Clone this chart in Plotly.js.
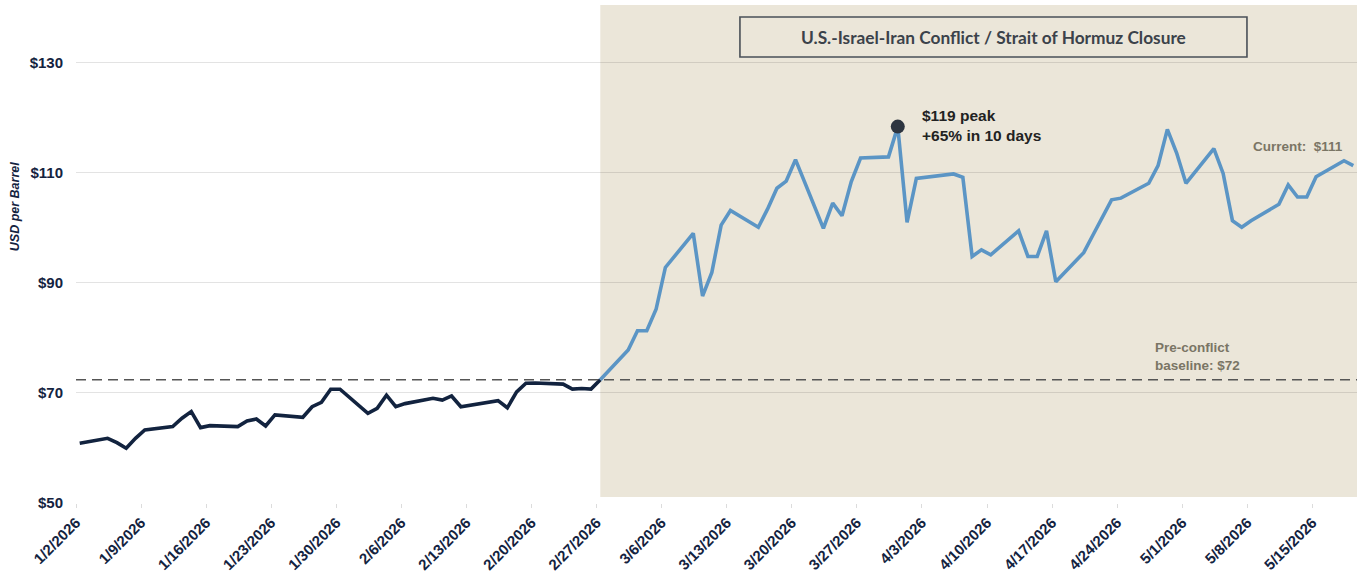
<!DOCTYPE html>
<html>
<head>
<meta charset="utf-8">
<script src="https://cdn.plot.ly/plotly-3.0.1.min.js"></script>
<style>html,body{margin:0;padding:0;background:#fff;}#chart{width:1357px;height:573px;}</style>
</head>
<body>
<div id="chart"></div>
<script>
// ---- data ----
const preDates = ['2026-01-02','2026-01-05','2026-01-06','2026-01-07','2026-01-08','2026-01-09',
  '2026-01-12','2026-01-13','2026-01-14','2026-01-15','2026-01-16',
  '2026-01-19','2026-01-20','2026-01-21','2026-01-22','2026-01-23',
  '2026-01-26','2026-01-27','2026-01-28','2026-01-29','2026-01-30',
  '2026-02-02','2026-02-03','2026-02-04','2026-02-05','2026-02-06',
  '2026-02-09','2026-02-10','2026-02-11','2026-02-12',
  '2026-02-16','2026-02-17','2026-02-18','2026-02-19','2026-02-20',
  '2026-02-23','2026-02-24','2026-02-25','2026-02-26','2026-02-27'];
const preValues = [60.85,61.76,60.97,59.94,61.76,63.27,
  63.88,65.4,66.6,63.7,64.06,
  63.88,64.9,65.27,64.0,66.0,
  65.58,67.5,68.3,70.67,70.67,
  66.3,67.2,69.6,67.5,68.06,
  69.03,68.7,69.45,67.5,
  68.6,67.3,70.2,71.76,71.8,
  71.6,70.7,70.8,70.7,72.4];

const conflictDates = ['2026-02-27','2026-03-02','2026-03-03','2026-03-04','2026-03-05','2026-03-06',
  '2026-03-09','2026-03-10','2026-03-11','2026-03-12','2026-03-13',
  '2026-03-16','2026-03-17','2026-03-18','2026-03-19','2026-03-20',
  '2026-03-23','2026-03-24','2026-03-25','2026-03-26','2026-03-27',
  '2026-03-30','2026-03-31','2026-04-01','2026-04-02',
  '2026-04-06','2026-04-07','2026-04-08','2026-04-09','2026-04-10',
  '2026-04-13','2026-04-14','2026-04-15','2026-04-16','2026-04-17',
  '2026-04-20','2026-04-21','2026-04-22','2026-04-23','2026-04-24',
  '2026-04-27','2026-04-28','2026-04-29','2026-04-30','2026-05-01',
  '2026-05-04','2026-05-05','2026-05-06','2026-05-07','2026-05-08',
  '2026-05-11','2026-05-12','2026-05-13','2026-05-14','2026-05-15',
  '2026-05-18','2026-05-19'];
const conflictValues = [72.4,77.8,81.3,81.3,85.2,92.8,
  99.0,87.6,91.9,100.5,103.15,
  100.1,103.45,107.2,108.5,112.4,
  99.9,104.5,102.2,108.4,112.7,
  112.9,118.4,101.0,109.0,
  109.8,109.2,94.8,96.0,95.1,
  99.45,94.8,94.8,99.45,90.2,
  95.5,98.7,102.05,105.1,105.4,
  108.1,111.3,117.9,113.6,108.1,
  114.4,109.9,101.3,100.1,101.3,
  104.3,107.8,105.6,105.6,109.3,
  112.2,111.3];

const peakDate = '2026-03-31';
const peakValue = 118.4;
const baselineValue = 72.4;
const conflictStart = '2026-02-27';

const tickDates = ['2026-01-02','2026-01-09','2026-01-16','2026-01-23','2026-01-30','2026-02-06',
  '2026-02-13','2026-02-20','2026-02-27','2026-03-06','2026-03-13','2026-03-20','2026-03-27',
  '2026-04-03','2026-04-10','2026-04-17','2026-04-24','2026-05-01','2026-05-08','2026-05-15'];
const tickLabels = ['1/2/2026','1/9/2026','1/16/2026','1/23/2026','1/30/2026','2/6/2026',
  '2/13/2026','2/20/2026','2/27/2026','3/6/2026','3/13/2026','3/20/2026','3/27/2026',
  '4/3/2026','4/10/2026','4/17/2026','4/24/2026','5/1/2026','5/8/2026','5/15/2026'];
const yTickValues = [50,70,90,110,130];
const yTickLabels = ['$50','$70','$90','$110','$130'];

// ---- helpers ----
const DAY = 86400000;
function ms(d){ return Date.parse(d + 'T00:00:00Z'); }
function str(m){ return new Date(m).toISOString().slice(0,19).replace('T',' '); }
const tickShift = 0.4 * DAY;
const xStart = ms(tickDates[0]) - tickShift;
const xEnd = xStart + 137.8 * DAY;

const navy = '#14233f';
const fontFam = 'Liberation Sans, Arial, sans-serif';

const traces = [
  {x: preDates, y: preValues, type:'scatter', mode:'lines',
   line:{color:'#12233f', width:3.6}, hoverinfo:'skip'},
  {x: conflictDates, y: conflictValues, type:'scatter', mode:'lines',
   line:{color:'#5b95c5', width:3.6}, hoverinfo:'skip'},
  {x: [peakDate], y: [peakValue], type:'scatter', mode:'markers',
   marker:{color:'#2d3540', size:14}, hoverinfo:'skip'}
];

const layout = {
  width:1357, height:573,
  margin:{l:76, r:0, t:5, b:70},
  paper_bgcolor:'#ffffff', plot_bgcolor:'#ffffff',
  showlegend:false,
  xaxis:{
    type:'date', range:[str(xStart), str(xEnd)],
    tickmode:'array', tickvals: tickDates.map(d => str(ms(d) - tickShift)), ticktext: tickLabels,
    tickangle:-45, tickfont:{family:fontFam, size:15, color:navy, weight:700},
    ticks:'outside', ticklen:4, tickcolor:'#dcdcdc', tickwidth:1,
    showgrid:false, zeroline:false, showline:false
  },
  yaxis:{
    range:[50,140.5], tickmode:'array', tickvals:yTickValues, ticktext:yTickLabels,
    tickfont:{family:fontFam, size:15, color:navy, weight:700},
    gridcolor:'rgba(0,0,0,0.11)', gridwidth:1, zeroline:false, showline:false,
    ticks:'', ticklabelstandoff:12
  },
  shapes:[
    {type:'rect', layer:'below', xref:'x', yref:'y', x0:conflictStart, x1:str(xEnd), y0:51.1, y1:140.5,
     fillcolor:'#ebe6d9', line:{width:0}},
    {type:'line', xref:'paper', yref:'y', x0:0, x1:1, y0:baselineValue, y1:baselineValue,
     line:{color:'#555555', width:1.3, dash:'10px,6px'}},
    {type:'rect', xref:'paper', yref:'paper', x0:0.5183, x1:0.9141, y0:0.8956, y1:0.9759,
     line:{color:'#4a5058', width:1.6}, fillcolor:'rgba(0,0,0,0)'}
  ],
  annotations:[
    {xref:'paper', yref:'paper', x:0.7160, y:0.9357, xanchor:'center', yanchor:'middle', showarrow:false,
     text:'U.S.-Israel-Iran Conflict / Strait of Hormuz Closure',
     font:{family:'Lato, Open Sans, sans-serif', size:17.3, color:'#3b424a', weight:700}},
    {xref:'paper', yref:'paper', x:0.659, y:0.759, xanchor:'left', yanchor:'middle', align:'left', showarrow:false,
     text:'$119 peak<br>+65% in 10 days',
     font:{family:fontFam, size:15.5, color:'#222222', weight:700}},
    {xref:'paper', yref:'paper', x:0.9906, y:0.715, xanchor:'right', yanchor:'middle', showarrow:false,
     text:'Current:\u00a0\u00a0$111',
     font:{family:fontFam, size:13.5, color:'#7a7565', weight:700}},
    {xref:'paper', yref:'paper', x:0.8407, y:0.294, xanchor:'left', yanchor:'middle', align:'left', showarrow:false,
     text:'Pre-conflict<br>baseline: $72',
     font:{family:fontFam, size:13.5, color:'#7a7565', weight:700}},
    {xref:'paper', yref:'paper', x:-0.0476, y:0.594, xanchor:'center', yanchor:'middle', textangle:-90, showarrow:false,
     text:'<i>USD per Barrel</i>',
     font:{family:fontFam, size:12.5, color:navy, weight:700}}
  ]
};

Plotly.newPlot('chart', traces, layout, {displayModeBar:false, staticPlot:true});
</script>
</body>
</html>
